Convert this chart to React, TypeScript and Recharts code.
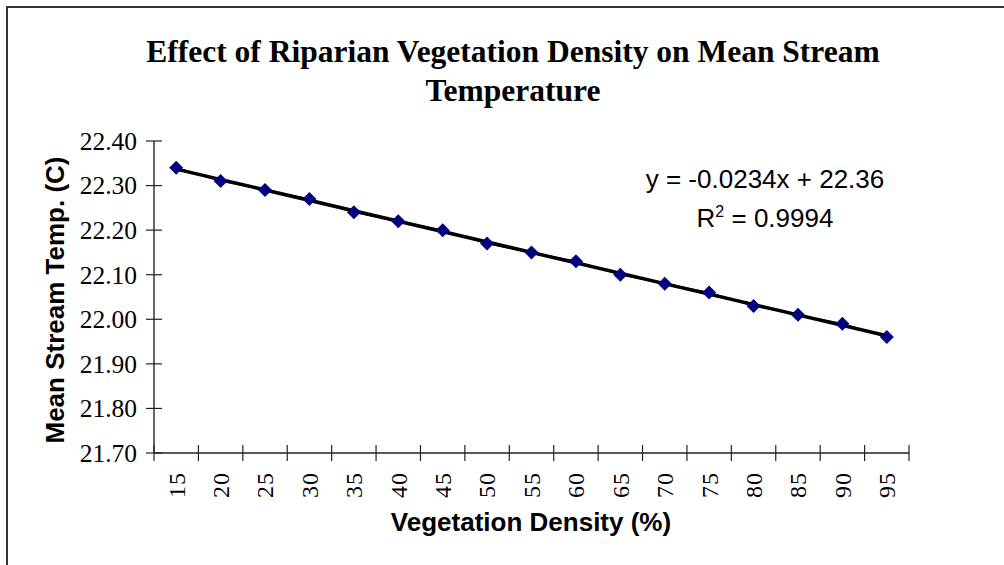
import React from 'react';
import { LineChart, Line, XAxis, YAxis, ReferenceLine } from 'recharts';

// vegetation density categories (%)
const densityLabels = ['15', '20', '25', '30', '35', '40', '45', '50', '55', '60', '65', '70', '75', '80', '85', '90', '95'];
// mean stream temperature (C)
const meanTemps = [22.34, 22.31, 22.29, 22.27, 22.24, 22.22, 22.2, 22.17, 22.15, 22.13, 22.1, 22.08, 22.06, 22.03, 22.01, 21.99, 21.96];
const tempTicks = [21.7, 21.8, 21.9, 22.0, 22.1, 22.2, 22.3, 22.4];
// linear trendline value at the first and last category
const trendEnds = [22.337, 21.963];

const data = densityLabels.map((d, i) => ({ density: d, temp: meanTemps[i] }));

const Diamond = (props: any) => {
  const { cx, cy } = props;
  if (cx == null || cy == null) return null;
  const r = 7;
  return (
    <polygon
      points={`${cx},${cy - r} ${cx + r},${cy} ${cx},${cy + r} ${cx - r},${cy}`}
      fill="#000080"
    />
  );
};

const XTick = (props: any) => {
  const { x, y, payload, index, visibleTicksCount } = props;
  const half = payload.offset || 22.2;
  return (
    <g>
      <line x1={x - half} x2={x - half} y1={y - 8} y2={y + 8} stroke="#222" strokeWidth={1.2} />
      {index === visibleTicksCount - 1 && (
        <line x1={x + half} x2={x + half} y1={y - 8} y2={y + 8} stroke="#222" strokeWidth={1.2} />
      )}
      <text
        transform={`translate(${x},${y + 19}) rotate(-90)`}
        textAnchor="end"
        dy="0.35em"
        fontFamily="Liberation Serif"
        fontSize={24}
        letterSpacing={1}
        fill="#000"
      >
        {payload.value}
      </text>
    </g>
  );
};

const YTick = (props: any) => {
  const { x, y, payload } = props;
  return (
    <g>
      <line x1={x - 8} x2={x + 8} y1={y} y2={y} stroke="#222" strokeWidth={1.2} />
      <text x={x - 17} y={y} dy="0.35em" textAnchor="end" fontFamily="Liberation Serif" fontSize={25.5} fill="#000">
        {Number(payload.value).toFixed(2)}
      </text>
    </g>
  );
};

export default function App() {
  return (
    <div style={{ position: 'absolute', left: 0, top: 0, width: 1004, height: 565, background: '#fff', overflow: 'hidden' }}>
      <div
        style={{
          position: 'absolute',
          left: 6,
          top: 6,
          width: 1100,
          height: 700,
          borderTop: '2px solid #333',
          borderLeft: '2px solid #333',
        }}
      />
      <div style={{ position: 'absolute', left: 0, top: 0 }}>
        <LineChart width={1004} height={565} data={data} margin={{ top: 141, right: 95, bottom: 52, left: 54 }}>
          <XAxis
            dataKey="density"
            scale="band"
            interval={0}
            height={60}
            tickSize={0}
            tickMargin={0}
            tickLine={false}
            axisLine={{ stroke: '#222', strokeWidth: 1.5 }}
            tick={<XTick />}
          />
          <XAxis xAxisId="top" dataKey="density" scale="band" orientation="top" height={0} tick={false} tickLine={false} axisLine={{ stroke: '#999', strokeWidth: 1.5 }} />
          <YAxis
            domain={[21.7, 22.4]}
            ticks={tempTicks}
            width={100}
            tickSize={0}
            tickMargin={0}
            tickLine={false}
            axisLine={{ stroke: '#333', strokeWidth: 1.5 }}
            tick={<YTick />}
          />
          <YAxis yAxisId="right" orientation="right" domain={[21.7, 22.4]} width={0} tick={false} tickLine={false} axisLine={{ stroke: '#999', strokeWidth: 2 }} />
          <Line
            dataKey="temp"
            stroke="#000080"
            strokeWidth={1.5}
            dot={<Diamond />}
            activeDot={false}
            isAnimationActive={false}
          />
          <ReferenceLine
            segment={[
              { x: densityLabels[0], y: trendEnds[0] },
              { x: densityLabels[densityLabels.length - 1], y: trendEnds[1] },
            ]}
            stroke="#000"
            strokeWidth={3.5}
          />
        </LineChart>
      </div>
      <svg width={1004} height={565} style={{ position: 'absolute', left: 0, top: 0, pointerEvents: 'none' }}>
        <text x={513} y={62} textAnchor="middle" fontFamily="Liberation Serif" fontWeight="bold" fontSize={31.5} fill="#000">
          Effect of Riparian Vegetation Density on Mean Stream
        </text>
        <text x={513} y={101} textAnchor="middle" fontFamily="Liberation Serif" fontWeight="bold" fontSize={31.5} fill="#000">
          Temperature
        </text>
        <text x={765} y={188} textAnchor="middle" fontFamily="Liberation Sans" fontSize={26} fill="#000">
          y = -0.0234x + 22.36
        </text>
        <text x={765} y={227} textAnchor="middle" fontFamily="Liberation Sans" fontSize={26} fill="#000">
          R<tspan dy={-10} fontSize={16}>2</tspan>
          <tspan dy={10}> = 0.9994</tspan>
        </text>
        <text
          transform="translate(55,300) rotate(-90)"
          textAnchor="middle"
          dy="0.35em"
          fontFamily="Liberation Sans"
          fontWeight="bold"
          fontSize={26}
          fill="#000"
        >
          Mean Stream Temp. (C)
        </text>
        <text x={531} y={531} textAnchor="middle" fontFamily="Liberation Sans" fontWeight="bold" fontSize={26} fill="#000">
          Vegetation Density (%)
        </text>
      </svg>
    </div>
  );
}
